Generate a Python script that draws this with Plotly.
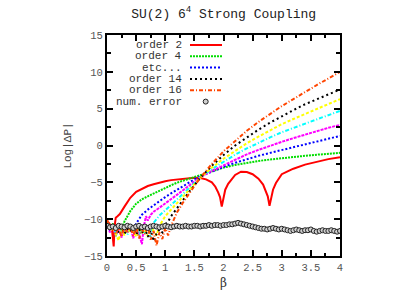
import plotly.graph_objects as go

# ---------------- data ----------------
beta_o2 = [0.0, 0.04, 0.08, 0.1, 0.115, 0.13, 0.15, 0.18, 0.22, 0.3, 0.4, 0.5, 0.6, 0.7, 0.8, 0.9, 1.0, 1.1, 1.2, 1.3,
           1.4, 1.5, 1.6, 1.7, 1.8, 1.86, 1.91, 1.94, 1.97, 2.0, 2.03, 2.08, 2.15, 2.2, 2.3, 2.4, 2.5, 2.6, 2.68,
           2.73, 2.76, 2.79, 2.82, 2.85, 2.9, 3.0, 3.1, 3.2, 3.4, 3.6, 3.8, 4.0]
val_o2 = [-10.2, -10.6, -11.0, -12.5, -13.7, -11.0, -9.8, -9.6, -9.3, -8.3, -7.1, -6.3, -5.85, -5.5, -5.25, -5.0, -4.85,
          -4.7, -4.6, -4.5, -4.42, -4.38, -4.4, -4.6, -5.0, -5.6, -6.4, -7.0, -8.3, -6.9, -6.0, -5.2, -4.5, -4.0,
          -3.55, -3.6, -3.9, -4.5, -5.3, -6.2, -6.9, -8.2, -6.9, -6.0, -5.1, -3.9, -3.5, -3.15, -2.6, -2.2, -1.85, -1.6]

beta_o4 = [0.0, 0.05, 0.1, 0.15, 0.2, 0.25, 0.3, 0.35, 0.4, 0.5, 0.6, 0.7, 0.8, 0.9, 1.0, 1.1, 1.2, 1.3, 1.4, 1.5,
           1.6, 1.8, 2.0, 2.2, 2.4, 2.6, 2.8, 3.0, 3.2, 3.4, 3.6, 3.8, 4.0]
val_o4 = [-10.3, -11.2, -10.6, -12.3, -11.0, -11.5, -10.3, -9.6, -8.9, -7.9, -7.3, -6.9, -6.5, -6.15, -5.8, -5.4,
          -5.05, -4.8, -4.55, -4.3, -4.05, -3.5, -3.0, -2.65, -2.35, -2.1, -1.9, -1.7, -1.55, -1.4, -1.25, -1.1, -1.0]

beta_o6 = [0.0, 0.05, 0.1, 0.15, 0.2, 0.25, 0.3, 0.35, 0.4, 0.45, 0.5, 0.55, 0.6, 0.7, 0.8, 0.9, 1.0, 1.1, 1.2,
           1.3, 1.4, 1.5, 1.6, 1.8, 2.0, 2.2, 2.4, 2.6, 2.8, 3.0, 3.2, 3.4, 3.6, 3.8, 4.0]
val_o6 = [-10.8, -11.5, -10.9, -11.8, -11.2, -12.0, -11.0, -11.6, -10.8, -11.7, -10.6, -9.9, -9.4, -8.7, -8.1,
          -7.55, -7.0, -6.5, -6.0, -5.5, -5.05, -4.6, -4.2, -3.5, -2.9, -2.35, -1.85, -1.4, -1.0, -0.6, -0.25,
          0.1, 0.5, 0.9, 1.3]

beta_o8 = [0.0, 0.05, 0.1, 0.15, 0.2, 0.25, 0.3, 0.35, 0.4, 0.45, 0.5, 0.55, 0.6, 0.63, 0.67, 0.7, 0.75, 0.8, 0.9,
           1.0, 1.1, 1.2, 1.3, 1.4, 1.5, 1.6, 1.8, 2.0, 2.2, 2.4, 2.6, 2.8, 3.0, 3.2, 3.4, 3.6, 3.8, 4.0]
val_o8 = [-10.5, -11.8, -11.0, -12.2, -11.3, -12.5, -11.0, -11.8, -10.9, -12.6, -11.2, -12.0, -13.4, -11.0, -9.6,
          -10.2, -9.4, -9.0, -8.45, -7.9, -7.3, -6.7, -6.1, -5.5, -4.9, -4.3, -3.45, -2.7, -1.9, -1.2, -0.6, 0.0,
          0.5, 1.0, 1.5, 1.95, 2.4, 2.8]

beta_o10 = [0.0, 0.05, 0.1, 0.15, 0.2, 0.25, 0.3, 0.35, 0.4, 0.45, 0.5, 0.55, 0.6, 0.65, 0.7, 0.75, 0.8, 0.85, 0.9,
            1.0, 1.1, 1.2, 1.3, 1.4, 1.5, 1.6, 1.8, 2.0, 2.2, 2.4, 2.6, 2.8, 3.0, 3.2, 3.4, 3.6, 3.8, 4.0]
val_o10 = [-10.2, -11.4, -10.8, -11.9, -11.0, -11.6, -10.9, -12.1, -11.2, -11.8, -11.0, -12.2, -11.3, -11.9, -11.0,
           -12.5, -10.5, -10.0, -9.5, -8.8, -8.1, -7.35, -6.6, -5.85, -5.1, -4.35, -3.2, -2.2, -1.25, -0.4, 0.4,
           1.1, 1.8, 2.4, 3.0, 3.6, 4.15, 4.7]

beta_o12 = [0.0, 0.05, 0.1, 0.15, 0.2, 0.25, 0.3, 0.35, 0.4, 0.45, 0.5, 0.55, 0.6, 0.65, 0.7, 0.75, 0.8, 0.85, 0.9,
            0.95, 1.0, 1.1, 1.2, 1.3, 1.4, 1.5, 1.6, 1.8, 2.0, 2.2, 2.4, 2.6, 2.8, 3.0, 3.2, 3.4, 3.6, 3.8, 4.0]
val_o12 = [-10.4, -11.6, -11.1, -12.0, -12.9, -11.3, -12.2, -11.0, -11.8, -11.2, -12.4, -11.1, -11.9, -11.4, -12.3,
           -11.0, -11.6, -12.2, -10.9, -10.3, -9.6, -8.7, -7.8, -6.95, -6.1, -5.25, -4.4, -3.0, -1.8, -0.7, 0.3,
           1.2, 2.1, 2.9, 3.6, 4.3, 5.0, 5.65, 6.3]

beta_o14 = [0.0, 0.05, 0.1, 0.15, 0.2, 0.25, 0.3, 0.35, 0.4, 0.45, 0.5, 0.55, 0.6, 0.65, 0.7, 0.75, 0.8, 0.85, 0.9,
            0.95, 1.0, 1.05, 1.1, 1.2, 1.3, 1.4, 1.5, 1.6, 1.8, 2.0, 2.2, 2.4, 2.6, 2.8, 3.0, 3.2, 3.4, 3.6, 3.8, 4.0]
val_o14 = [-10.6, -11.2, -11.5, -10.9, -11.8, -11.1, -12.0, -11.3, -11.7, -11.0, -12.1, -11.4, -11.9, -11.2, -12.4,
           -11.5, -13.0, -12.0, -11.4, -11.8, -10.7, -10.3, -9.6, -8.5, -7.4, -6.4, -5.4, -4.4, -2.75, -1.3, 0.0,
           1.1, 2.15, 3.1, 4.0, 4.8, 5.6, 6.3, 6.95, 7.6]

beta_o16 = [0.0, 0.05, 0.1, 0.15, 0.2, 0.25, 0.3, 0.35, 0.4, 0.45, 0.5, 0.55, 0.6, 0.65, 0.7, 0.75, 0.8, 0.85, 0.9,
            0.95, 1.0, 1.05, 1.1, 1.15, 1.2, 1.3, 1.4, 1.5, 1.6, 1.8, 2.0, 2.2, 2.4, 2.6, 2.8, 3.0, 3.2, 3.4, 3.6,
            3.8, 4.0]
val_o16 = [-10.0, -11.3, -10.7, -12.0, -11.2, -12.4, -11.0, -11.9, -10.8, -12.3, -11.1, -12.6, -11.4, -12.0, -11.0,
           -12.8, -11.6, -13.6, -11.8, -12.7, -11.2, -12.2, -10.9, -9.9, -9.1, -7.8, -6.6, -5.5, -4.4, -2.5, -0.8,
           0.65, 2.0, 3.2, 4.3, 5.35, 6.3, 7.3, 8.2, 9.1, 10.0]

beta_err = [0.0, 0.05, 0.1, 0.15, 0.2, 0.25, 0.3, 0.35, 0.4, 0.45, 0.5, 0.55, 0.6, 0.65, 0.7, 0.75, 0.8, 0.85, 0.9,
            0.95, 1.0, 1.05, 1.1, 1.15, 1.2, 1.25, 1.3, 1.35, 1.4, 1.45, 1.5, 1.55, 1.6, 1.65, 1.7, 1.75, 1.8, 1.85,
            1.9, 1.95, 2.0, 2.05, 2.1, 2.15, 2.2, 2.25, 2.3, 2.35, 2.4, 2.45, 2.5, 2.55, 2.6, 2.65, 2.7, 2.75, 2.8,
            2.85, 2.9, 2.95, 3.0, 3.05, 3.1, 3.15, 3.2, 3.25, 3.3, 3.35, 3.4, 3.45, 3.5, 3.55, 3.6, 3.65, 3.7, 3.75,
            3.8, 3.85, 3.9, 3.95, 4.0]
val_err = [-10.9, -11.1, -11.0, -11.2, -10.9, -11.0, -11.1, -10.9, -11.0, -11.2, -11.0, -10.9, -11.1, -11.0, -11.2,
           -11.0, -10.9, -11.0, -11.1, -11.0, -10.9, -11.0, -11.1, -11.0, -10.9, -11.0, -11.0, -10.9, -11.0, -11.0,
           -10.9, -10.9, -11.0, -10.9, -10.9, -10.8, -10.9, -10.8, -10.8, -10.9, -10.8, -10.8, -10.7, -10.7, -10.6,
           -10.5, -10.6, -10.7, -10.8, -10.9, -11.0, -11.1, -11.2, -11.3, -11.3, -11.4, -11.3, -11.2, -11.3, -11.4,
           -11.3, -11.4, -11.5, -11.6, -11.5, -11.4, -11.5, -11.6, -11.5, -11.5, -11.4, -11.6, -11.7, -11.6, -11.5,
           -11.6, -11.6, -11.5, -11.6, -11.7, -11.6]

series = [
    ("order 2", beta_o2, val_o2, "#ff0000", "solid"),
    ("order 4", beta_o4, val_o4, "#00dd00", "2px,1px"),
    ("order 6", beta_o6, val_o6, "#0000ff", "2px,2px"),
    ("order 8", beta_o8, val_o8, "#ff00ff", "3px,1px"),
    ("order 10", beta_o10, val_o10, "#00ffff", "4px,2px,1px,2px"),
    ("order 12", beta_o12, val_o12, "#ffff00", "3px,2px"),
    ("order 14", beta_o14, val_o14, "#000000", "2px,3px"),
    ("order 16", beta_o16, val_o16, "#ff4500", "4px,2px,1px,2px"),
]

legend_rows = [
    ("order 2", "#ff0000", "solid"),
    ("order 4", "#00dd00", "2px,1px"),
    ("etc...", "#0000ff", "2px,2px"),
    ("order 14", "#000000", "2px,3px"),
    ("order 16", "#ff4500", "4px,2px,1px,2px"),
]

FONT = "Liberation Mono, Courier New, monospace"

fig = go.Figure()
for name, bx, by, col, dash in series:
    fig.add_trace(go.Scatter(x=bx, y=by, mode="lines", name=name, hoverinfo="skip",
                             line=dict(color=col, width=2, dash=dash)))

fig.add_trace(go.Scatter(x=beta_err, y=val_err, mode="markers", name="num. error", hoverinfo="skip",
                         marker=dict(symbol="circle", size=5, color="#d0d0d0",
                                     line=dict(color="#222222", width=1))))

# ---- legend (text on the left, sample on the right, as in the reference) ----
PLOT_L, PLOT_R, PLOT_T, PLOT_B = 107, 340, 35, 256
pw, ph = PLOT_R - PLOT_L, PLOT_B - PLOT_T
row_y = [45, 56.3, 67.6, 79, 90.3, 101.6]
text_x = (183 - PLOT_L) / pw
s0 = (190 - PLOT_L) / pw
s1 = (222 - PLOT_L) / pw
annotations = []
shapes = []
leg_font = dict(family=FONT, size=11, color="#333")
for i, (lab, col, dash) in enumerate(legend_rows):
    yy = (PLOT_B - row_y[i]) / ph
    annotations.append(dict(x=text_x, y=yy, xref="paper", yref="paper", text=lab, showarrow=False,
                            xanchor="right", yanchor="middle", height=10, borderpad=0, font=leg_font))
    shapes.append(dict(type="line", xref="paper", yref="paper", x0=s0, x1=s1, y0=yy, y1=yy,
                       line=dict(color=col, width=2, dash=dash)))
yy = (PLOT_B - row_y[5]) / ph
annotations.append(dict(x=text_x, y=yy, xref="paper", yref="paper", text="num. error", showarrow=False,
                        xanchor="right", yanchor="middle", height=10, borderpad=0, font=leg_font))
cx = (205.7 - PLOT_L) / pw
shapes.append(dict(type="circle", xref="paper", yref="paper", xsizemode="pixel", ysizemode="pixel",
                   xanchor=cx, yanchor=yy, x0=-2.5, x1=2.5, y0=-2.5, y1=2.5,
                   fillcolor="#d0d0d0", line=dict(color="#222222", width=1)))

axis_common = dict(showline=True, linecolor="black", linewidth=2, mirror="ticks", ticks="inside",
                   ticklen=6, tickwidth=1.5, tickcolor="black", showgrid=False, zeroline=False,
                   automargin=False,
                   tickfont=dict(family=FONT, size=10.5, color="#555"))

fig.update_layout(
    width=415, height=291,
    margin=dict(l=PLOT_L, r=415 - PLOT_R, t=PLOT_T, b=291 - PLOT_B),
    paper_bgcolor="white", plot_bgcolor="white",
    showlegend=False, hovermode=False,
    title=dict(text="SU(2) 6<sup>4</sup> Strong Coupling", x=0.5389, xanchor="center", y=0.955,
               yanchor="middle", font=dict(family=FONT, size=13, color="#222")),
    xaxis=dict(range=[0, 4], dtick=0.5, tick0=0,
               minor=dict(dtick=0.25, ticks="inside", ticklen=3, tickcolor="black", tickwidth=1.5),
               title=dict(text="β", standoff=6, font=dict(family="DejaVu Serif, serif", size=12, color="#333")),
               **axis_common),
    yaxis=dict(range=[-15, 15], dtick=5, tick0=0,
               minor=dict(dtick=2.5, ticks="inside", ticklen=4, tickcolor="black", tickwidth=1.5),
               title=dict(text="Log|ΔP|", standoff=10, font=dict(family=FONT, size=11, color="#444")),
               **axis_common),
    annotations=annotations,
    shapes=shapes,
)

fig.write_html("out.html", config={"displayModeBar": False},
               post_script="document.body.style.margin='0';document.body.style.padding='0';")
